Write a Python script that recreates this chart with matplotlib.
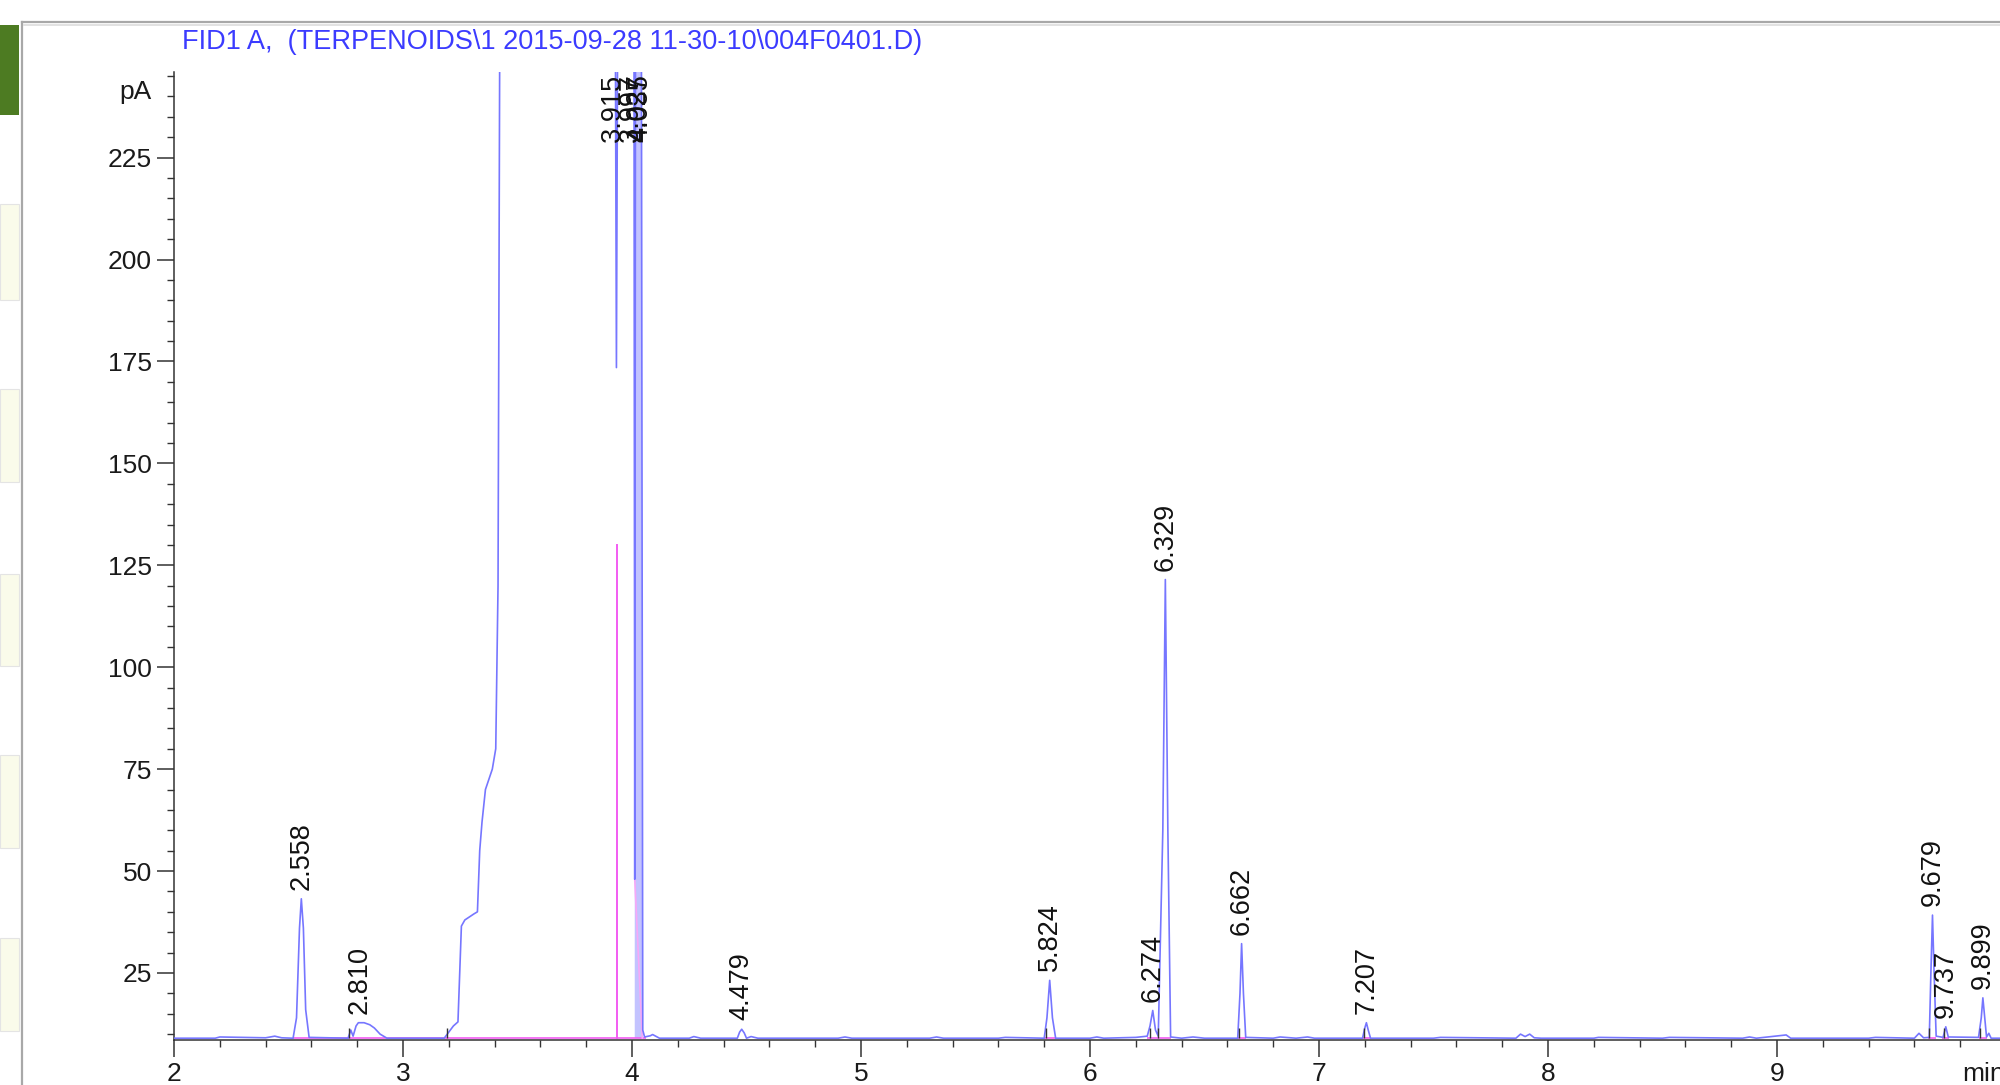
import matplotlib
matplotlib.use('Agg')
import matplotlib.pyplot as plt
from matplotlib.ticker import MultipleLocator
from matplotlib.patches import Rectangle
from matplotlib.lines import Line2D

plt.rcParams['font.family'] = ['Liberation Sans', 'DejaVu Sans']

TITLE = 'FID1 A,  (TERPENOIDS\\1 2015-09-28 11-30-10\\004F0401.D)'

# detector trace, minutes / pA (300 = off scale)
time_min = [2.00, 2.18, 2.20, 2.40, 2.44, 2.47, 2.52, 2.535, 2.548, 2.556, 2.565, 2.575, 2.59,
            2.76, 2.772, 2.782, 2.795, 2.805, 2.83, 2.855, 2.875, 2.90, 2.93,
            3.18, 3.20, 3.22, 3.24, 3.255, 3.27, 3.31, 3.325, 3.335, 3.345, 3.36, 3.39, 3.405,
            3.415, 3.425, 3.925, 3.932, 3.94, 4.008, 4.012, 4.016, 4.04, 4.047, 4.055,
            4.08, 4.09, 4.12, 4.25, 4.27, 4.30, 4.46, 4.47, 4.479, 4.49, 4.50, 4.52, 4.55,
            4.90, 4.93, 4.96, 5.30, 5.33, 5.36, 5.60, 5.63, 5.80, 5.812, 5.824, 5.836, 5.85,
            6.00, 6.03, 6.06, 6.20, 6.25, 6.262, 6.274, 6.286, 6.298, 6.318, 6.329, 6.340, 6.352,
            6.40, 6.45, 6.50, 6.645, 6.655, 6.662, 6.670, 6.68, 6.80, 6.83, 6.90, 6.95, 6.98,
            7.19, 7.20, 7.207, 7.215, 7.225, 7.50, 7.53, 7.86, 7.88, 7.90, 7.92, 7.94, 7.97,
            8.20, 8.22, 8.50, 8.53, 8.85, 8.88, 8.91, 9.04, 9.06, 9.40, 9.43, 9.60, 9.62, 9.64,
            9.665, 9.672, 9.679, 9.686, 9.695, 9.725, 9.737, 9.748, 9.88, 9.892, 9.899, 9.907,
            9.915, 9.925, 9.935, 10.20]
signal_pa = [9.0, 9.0, 9.3, 9.1, 9.5, 9.1, 9.0, 14.0, 36.0, 43.2, 36.0, 16.0, 9.2,
             9.0, 11.0, 9.5, 12.0, 12.8, 12.8, 12.3, 11.5, 10.0, 9.0,
             9.0, 10.5, 12.0, 13.0, 36.5, 38.0, 39.5, 40.0, 55.0, 62.0, 70.0, 75.0, 80.0,
             120.0, 300.0, 300.0, 173.5, 300.0, 300.0, 48.0, 300.0, 300.0, 11.0, 9.3,
             9.6, 9.9, 9.0, 9.0, 9.4, 9.0, 9.0, 10.5, 11.2, 10.3, 9.0, 9.4, 9.0,
             9.0, 9.3, 9.0, 9.0, 9.3, 9.0, 9.0, 9.2, 9.0, 14.0, 23.2, 14.0, 9.0,
             9.0, 9.3, 9.0, 9.2, 9.5, 12.0, 15.8, 11.0, 9.5, 60.0, 121.5, 60.0, 9.3,
             9.0, 9.3, 9.0, 9.0, 20.0, 32.2, 20.0, 9.2, 9.0, 9.3, 9.0, 9.3, 9.0,
             9.0, 11.5, 12.8, 11.0, 9.0, 9.0, 9.2, 9.0, 10.0, 9.4, 10.0, 9.1, 9.0,
             9.0, 9.2, 9.0, 9.2, 9.0, 9.3, 9.0, 9.8, 9.0, 9.0, 9.2, 9.0, 10.2, 9.1,
             9.2, 25.0, 39.2, 25.0, 9.5, 9.2, 11.8, 9.3, 9.2, 14.0, 18.9, 14.0,
             9.3, 10.2, 9.0, 9.0]

# labelled peaks (retention time, apex pA)
peak_rt = [2.558, 2.810, 4.479, 5.824, 6.274, 6.329, 6.662, 7.207, 9.679, 9.737, 9.899]
peak_top = [43.2, 12.8, 11.2, 23.2, 15.8, 121.5, 32.2, 12.8, 39.2, 11.8, 18.9]
# off-scale cluster, labels pinned to the top
cluster_rt = [3.915, 3.997, 4.027, 4.035]

# integration baseline pieces and drop lines (magenta)
base_start = [2.52, 5.80, 6.25, 6.645, 7.19, 9.66, 9.72, 9.88]
base_end = [4.06, 5.85, 6.352, 6.68, 7.225, 9.695, 9.75, 9.915]
drop_x = [3.935, 3.935]
drop_y = [9.0, 130.0]
slant_x = [4.012, 4.045]
slant_y = [48.0, 9.0]
event_rt = [2.765, 3.19, 5.81, 6.262, 6.298, 6.652, 7.198, 9.665, 9.728, 9.885]
BASE = 9.0

TRACE = '#7676ff'
PINK = '#f25cf2'

fig = plt.figure(figsize=(20, 10.85), dpi=100)
W, H = 2000.0, 1085.0

# screenshot chrome on the left
fig.add_artist(Rectangle((0, 1 - 115 / H), 19 / W, 90 / H, transform=fig.transFigure,
                         color='#4d7b22', lw=0))
for top, bot in [(204, 300), (389, 482), (574, 666), (755, 848), (938, 1031)]:
    fig.add_artist(Rectangle((0, 1 - bot / H), 19 / W, (bot - top) / H,
                             transform=fig.transFigure, facecolor='#fafbea',
                             edgecolor='#e4e4e4', lw=0.8))
fig.add_artist(Line2D([22 / W, 22 / W], [0, 1 - 22 / H], transform=fig.transFigure,
                      color='#a8a8a8', lw=1.6))
fig.add_artist(Line2D([22 / W, 1], [1 - 22 / H, 1 - 22 / H], transform=fig.transFigure,
                      color='#a8a8a8', lw=1.6))
fig.add_artist(Line2D([24 / W, 1], [1 - 24.5 / H, 1 - 24.5 / H], transform=fig.transFigure,
                      color='#e2e2e2', lw=1.4))

fig.text(182 / W, 1 - 42 / H, TITLE, color='#3b3bff', fontsize=19.5, ha='left', va='center')

x0, x1 = 2.0, 10.2
ax = fig.add_axes([174 / W, 45 / H, (x1 - x0) * 229 / W, 968 / H])
ax.set_xlim(x0, x1)
ax.set_ylim(8.56, 246.0)

ax.plot(time_min, signal_pa, color=TRACE, lw=1.2, zorder=3)
ax.fill_between(time_min, BASE, signal_pa,
                where=[4.012 <= t <= 4.047 for t in time_min],
                color='#aaaaff', alpha=0.7, lw=0, zorder=2)
ax.hlines([BASE] * len(base_start), base_start, base_end, color=PINK, lw=1.2, zorder=2)
ax.plot(drop_x, drop_y, color=PINK, lw=1.4, zorder=2)
ax.plot(slant_x, slant_y, color='#f7a8f7', lw=1.2, zorder=2)
ax.vlines(event_rt, BASE, BASE + 2.5, color='#333333', lw=1.0, zorder=4)

for rt, top in zip(peak_rt, peak_top):
    ax.text(rt, top + 2.2, f'{rt:.3f}', rotation=90, ha='center', va='bottom',
            fontsize=19.5, color='#111111')
for rt in cluster_rt:
    ax.text(rt, 245.6, f'{rt:.3f}', rotation=90, ha='center', va='top',
            fontsize=19.5, color='#111111')

for s in ['top', 'right']:
    ax.spines[s].set_visible(False)
for s in ['left', 'bottom']:
    ax.spines[s].set_color('#333333')
    ax.spines[s].set_linewidth(1.1)

ax.set_xticks(range(2, 10))
ax.xaxis.set_minor_locator(MultipleLocator(0.2))
ax.set_yticks(range(25, 226, 25))
ax.yaxis.set_minor_locator(MultipleLocator(5))
ax.tick_params(which='major', length=12, width=1.1, color='#333333', labelsize=19,
               labelcolor='#1a1a1a', pad=4)
ax.tick_params(which='minor', length=5, width=1.0, color='#333333')

ax.annotate('pA', xy=(0, 241), xycoords=('axes fraction', 'data'), xytext=(-16.5, 0),
            textcoords='offset points', ha='right', va='center', fontsize=19,
            color='#1a1a1a')
ax.annotate('min', xy=(9.81, 0), xycoords=('data', 'axes fraction'), xytext=(0, -16),
            textcoords='offset points', ha='left', va='top', fontsize=19, color='#1a1a1a')

fig.savefig('out.png', dpi=100)
